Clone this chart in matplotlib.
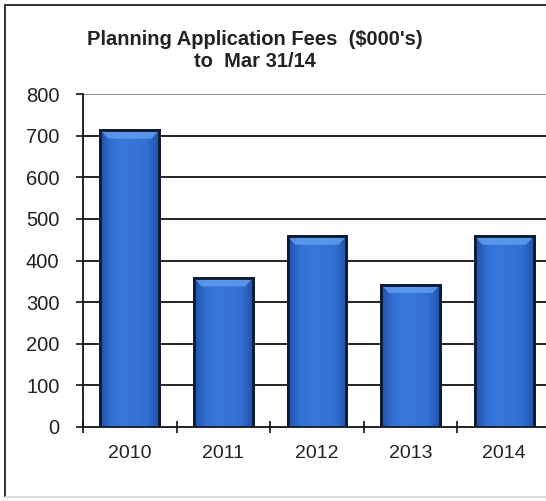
import numpy as np
import matplotlib.pyplot as plt
from matplotlib.patches import Rectangle, Polygon
from matplotlib.colors import LinearSegmentedColormap

years = ['2010', '2011', '2012', '2013', '2014']
fees = [713, 358, 458, 342, 458]
yticks = [0, 100, 200, 300, 400, 500, 600, 700, 800]

plt.rcParams['font.family'] = ['Liberation Sans', 'DejaVu Sans']

fig = plt.figure(figsize=(5.46, 5.01), dpi=100)
W, H = 546, 501

# outer frame of the chart area (runs off the right edge)
fig.add_artist(Rectangle((5 / W, 4 / H), 1.2, 1 - 9 / H, transform=fig.transFigure,
                         fill=False, edgecolor='#222222', linewidth=1.3))
fig.add_artist(plt.Line2D([6 / W, 1], [4 / H, 4 / H], transform=fig.transFigure,
                          color='#dddddd', linewidth=1.5))

ax = fig.add_axes([83 / W, 74 / H, 468 / W, 333 / H])
x = np.arange(len(years))

ax.set_xlim(-0.5, len(years) - 0.5)
ax.set_ylim(0, 800)
ax.set_yticks(yticks)
ax.set_yticklabels([str(v) for v in yticks])
for v in yticks[1:]:
    ax.axhline(v, color='#888888' if v == 800 else '#111111', lw=1.3, zorder=0)

bars = ax.bar(x, fees, width=0.63, color='#3474d8', edgecolor='#0e1a30',
              linewidth=2.0, zorder=3)

# soft shading across each bar plus a lighter bevel on top
shade = LinearSegmentedColormap.from_list(
    'shade', ['#214fa6', '#3170d4', '#3878dc', '#3575da', '#3170d2', '#2252a8'])
grad = np.linspace(0, 1, 256).reshape(1, -1)
for b in bars:
    x0, w, h = b.get_x(), b.get_width(), b.get_height()
    im = ax.imshow(grad, extent=(x0, x0 + w, 0, h), aspect='auto', cmap=shade,
                   zorder=3.5, interpolation='bilinear')
    im.set_clip_path(b)
    bev = 20
    dx = w * 0.13
    bevel = Polygon([(x0, h), (x0 + w, h), (x0 + w - dx, h - bev), (x0 + dx, h - bev)],
                    closed=True, facecolor='#66a3f2', edgecolor='none', alpha=0.75,
                    zorder=3.6)
    ax.add_patch(bevel)
    ax.add_patch(Rectangle((x0, 0), w, h, fill=False, edgecolor='#0e1a30',
                           linewidth=2.0, zorder=4))

# ticks sit between the years, labels in the middle of each slot
ax.set_xticks(np.arange(len(years) + 1) - 0.5)
ax.set_xticklabels([])
ax.set_xticks(x, minor=True)
ax.set_xticklabels(years, minor=True)
ax.tick_params(axis='x', which='major', direction='inout', length=9, width=1.2,
               color='#111111')
ax.tick_params(axis='x', which='minor', length=0, pad=13, labelsize=14,
               labelcolor='#222222')
ax.tick_params(axis='y', direction='out', length=5, width=1.2, pad=12,
               labelsize=14.5, labelcolor='#222222', color='#111111')

for s in ['top', 'right']:
    ax.spines[s].set_visible(False)
ax.spines['left'].set_linewidth(1.3)
ax.spines['bottom'].set_linewidth(1.3)
ax.spines['left'].set_color('#111111')
ax.spines['bottom'].set_color('#111111')

fig.text(255 / W, 1 - 39 / H, "Planning Application Fees  ($000's)", ha='center',
         va='center', fontsize=14.5, fontweight='bold', color='#222222')
fig.text(255 / W, 1 - 62 / H, "to  Mar 31/14", ha='center', va='center',
         fontsize=14.5, fontweight='bold', color='#222222')

fig.savefig('out.png', dpi=100)
